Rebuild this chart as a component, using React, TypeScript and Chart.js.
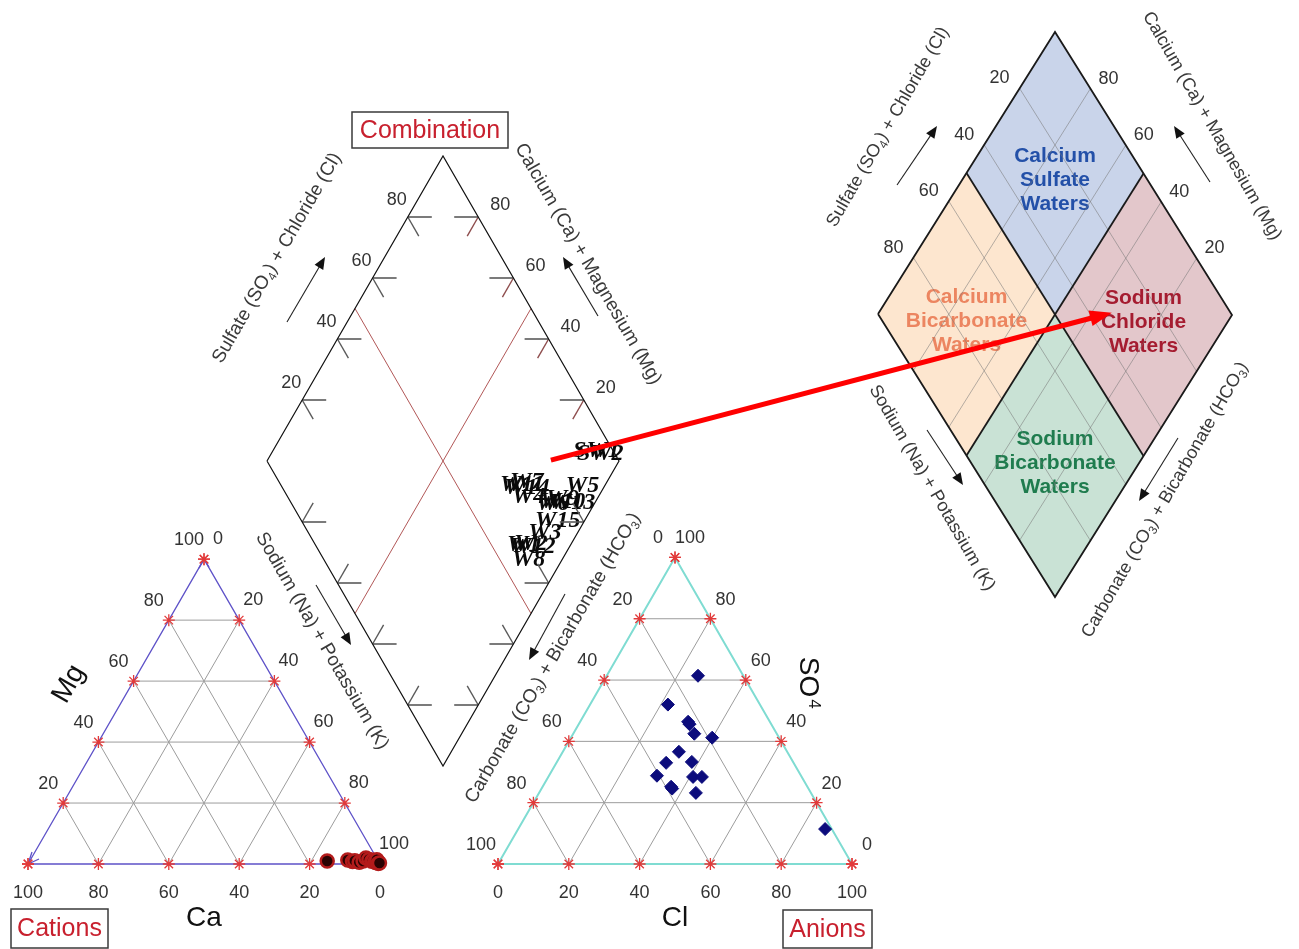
import { useEffect, useRef } from 'react';
import { Chart, registerables } from 'chart.js';

Chart.register(...registerables);

// ================= DATA (percent of meq/L) =================
const gridSteps = [20, 40, 60, 80];
const edgeSteps = [0, 20, 40, 60, 80, 100];

// Cation triangle samples
const cationCa = [14.5, 8.5, 7.4, 6.6, 5.6, 4.3, 3.0, 2.4, 1.9, 1.4, 1.0, 0.8, 0.5, 0.3, 0.2, 0.4, 0.0];
const cationMg = [1.0, 1.3, 0.8, 1.1, 0.6, 1.0, 2.0, 1.5, 0.9, 1.2, 0.5, 1.0, 0.6, 0.4, 1.4, 0.2, 0.3];

// Anion triangle samples
const anionCl = [25.8, 22.0, 30.5, 31.3, 34.2, 39.9, 32.8, 31.0, 38.1, 30.5, 40.9, 43.4, 36.3, 36.9, 44.3, 86.7];
const anionSO4 = [61.4, 52.0, 46.4, 45.6, 42.5, 41.2, 36.6, 33.0, 33.3, 28.8, 28.4, 28.4, 25.2, 24.6, 23.2, 11.4];

// Combination diamond sample labels
const sampleNames = ['SW1', 'SW2', 'W7', 'W11', 'W14', 'W5', 'W4', 'W9', 'W10', 'W6', 'W13', 'W15', 'W3', 'W1', 'W12', 'W2', 'W8'];
const sampleNaK = [86.3, 87.9, 73.5, 71.1, 72.8, 90.0, 76.5, 86.5, 85.3, 84.5, 88.3, 87.0, 87.0, 83.0, 84.1, 84.8, 86.8];
const sampleSO4Cl = [87.6, 88.2, 64.6, 61.3, 61.9, 79.8, 62.7, 72.0, 69.8, 68.4, 72.5, 65.3, 61.4, 53.4, 54.0, 55.6, 52.4];

// Hydrochemical facies (reference diamond)
const faciesLines = [
  ['Calcium', 'Sulfate', 'Waters'],
  ['Calcium', 'Bicarbonate', 'Waters'],
  ['Sodium', 'Chloride', 'Waters'],
  ['Sodium', 'Bicarbonate', 'Waters'],
];
const faciesNaK = [25, 25, 75, 75];
const faciesSO4Cl = [75, 25, 75, 25];
const faciesSteps = [20, 40, 60, 80];

// Arrow from the sample cluster to the Sodium Chloride facies
const pointerFrom = { naK: 80.5, so4Cl: 80.8 };
const pointerTo = { naK: 65.7, so4Cl: 66.4 };

// ================= LAYOUT =================
const W = 1299;
const H = 949;
const S3 = Math.sqrt(3) / 2;
type P = { x: number; y: number };
type D = { L: P; T: P; B: P };
const CAT = { x0: 28, y0: 864, side: 352 };
const AN = { x0: 498, y0: 864, side: 354 };
const MAIN: D = { L: { x: 267, y: 461 }, T: { x: 443, y: 156 }, B: { x: 443, y: 766 } };
const FAC: D = { L: { x: 878, y: 314 }, T: { x: 1055, y: 32 }, B: { x: 1055, y: 597 } };

const SANS = '"Liberation Sans", Arial, sans-serif';
const SERIF = '"Liberation Serif", "Times New Roman", serif';
const COL = {
  grid: '#9c9c9c', catEdge: '#5e52c8', anEdge: '#7fdcd2', star: '#e23a3a',
  catFill: '#2a0202', catRing: '#b31b1b', anFill: '#0c0c7c',
  tick: '#5a5a5a', tickRed: '#8e4d4d', mid: '#a84444', num: '#333333',
  title: '#3a3a3a', boxText: '#c8202e', facGrid: 'rgba(120,120,120,0.55)',
};
const FACIES_FILL = ['#c9d4ea', '#fde6cf', '#e3c7cb', '#c9e2d5'];
const FACIES_TEXT = ['#2350a8', '#ec8560', '#a51c30', '#1f7c4e'];

const AXIS_TITLES = [
  { t: 'Sulfate (SO_4) + Chloride (Cl)', x: 277, y: 258, r: -60, s: 19 },
  { t: 'Calcium (Ca) + Magnesium (Mg)', x: 588, y: 264, r: 60, s: 19 },
  { t: 'Sodium (Na) + Potassium (K)', x: 322, y: 641, r: 60, s: 19 },
  { t: 'Carbonate (CO_3) + Bicarbonate (HCO_3)', x: 553, y: 658, r: -60, s: 19 },
  { t: 'Sulfate (SO_4) + Chloride (Cl)', x: 888, y: 127, r: -60, s: 18 },
  { t: 'Calcium (Ca) + Magnesium (Mg)', x: 1212, y: 126, r: 60, s: 18 },
  { t: 'Sodium (Na) + Potassium (K)', x: 932, y: 488, r: 60, s: 18 },
  { t: 'Carbonate (CO_3) + Bicarbonate (HCO_3)', x: 1165, y: 500, r: -60, s: 18 },
];
const AXIS_ARROWS = [
  [287, 322, 325, 257], [598, 316, 563, 257], [316, 585, 351, 645], [565, 594, 529, 660],
  [897, 185, 937, 126], [1210, 182, 1174, 126], [927, 430, 963, 485], [1178, 438, 1139, 501],
];
const BOXES = [
  { t: 'Combination', x1: 352, y1: 112, x2: 508, y2: 148 },
  { t: 'Cations', x1: 11, y1: 909, x2: 108, y2: 948 },
  { t: 'Anions', x1: 783, y1: 910, x2: 872, y2: 948 },
];

// ================= GEOMETRY =================
const add = (p: P, dx: number, dy: number): P => ({ x: p.x + dx, y: p.y + dy });
function catPt(ca: number, mg: number): P {
  const na = 100 - ca - mg;
  return { x: CAT.x0 + (CAT.side * (na + mg / 2)) / 100, y: CAT.y0 - (CAT.side * S3 * mg) / 100 };
}
function anPt(cl: number, so4: number): P {
  return { x: AN.x0 + (AN.side * (cl + so4 / 2)) / 100, y: AN.y0 - (AN.side * S3 * so4) / 100 };
}
function diaPt(d: D, n: number, a: number): P {
  return {
    x: d.L.x + (a / 100) * (d.T.x - d.L.x) + (n / 100) * (d.B.x - d.L.x),
    y: d.L.y + (a / 100) * (d.T.y - d.L.y) + (n / 100) * (d.B.y - d.L.y),
  };
}
function shorten(a: P, b: P, len: number): P {
  const dx = b.x - a.x, dy = b.y - a.y, l = Math.hypot(dx, dy);
  return { x: b.x - (dx / l) * len, y: b.y - (dy / l) * len };
}

function buildDatasets() {
  const ds: any[] = [];
  const line = (pts: P[], color: string, width: number, order = 5) =>
    ds.push({
      data: pts, showLine: true, borderColor: color, borderWidth: width, pointRadius: 0,
      pointHoverRadius: 0, pointHitRadius: 0, fill: false, tension: 0, order, clip: false,
    });

  // ---- cation triangle ----
  gridSteps.forEach((k) => {
    line([catPt(100 - k, k), catPt(0, k)], COL.grid, 1);
    line([catPt(k, 0), catPt(k, 100 - k)], COL.grid, 1);
    line([catPt(100 - k, 0), catPt(0, 100 - k)], COL.grid, 1);
  });
  line([catPt(100, 0), catPt(0, 100), catPt(0, 0), catPt(100, 0)], COL.catEdge, 1.3, 3);
  const top = catPt(0, 100);
  line([add(top, -5, 9), top, add(top, 5, 8)], COL.catEdge, 1.3, 3);
  const bl = catPt(100, 0);
  line([add(bl, 4, -12), bl, add(bl, 11, -5)], COL.catEdge, 1.3, 3);
  const catStars: P[] = [];
  edgeSteps.forEach((k) => catStars.push(catPt(k, 0), catPt(100 - k, k), catPt(0, k)));
  ds.push({
    data: catStars, showLine: false, pointStyle: 'star', pointRadius: 6, pointBorderColor: COL.star,
    pointBorderWidth: 1.3, pointBackgroundColor: COL.star, order: 2, clip: false,
  });
  ds.push({
    data: cationCa.map((c, i) => catPt(c, cationMg[i])), showLine: false, pointStyle: 'circle',
    pointRadius: 6.5, pointBackgroundColor: COL.catFill, pointBorderColor: COL.catRing,
    pointBorderWidth: 2.5, order: 0, clip: false,
  });

  // ---- anion triangle ----
  gridSteps.forEach((k) => {
    line([anPt(0, k), anPt(100 - k, k)], COL.grid, 1);
    line([anPt(k, 0), anPt(k, 100 - k)], COL.grid, 1);
    line([anPt(100 - k, 0), anPt(0, 100 - k)], COL.grid, 1);
  });
  line([anPt(0, 0), anPt(0, 100), anPt(100, 0), anPt(0, 0)], COL.anEdge, 2, 3);
  const anStars: P[] = [];
  edgeSteps.forEach((k) => anStars.push(anPt(k, 0), anPt(100 - k, k), anPt(0, k)));
  ds.push({
    data: anStars, showLine: false, pointStyle: 'star', pointRadius: 6, pointBorderColor: COL.star,
    pointBorderWidth: 1.3, pointBackgroundColor: COL.star, order: 2, clip: false,
  });
  ds.push({
    data: anionCl.map((c, i) => anPt(c, anionSO4[i])), showLine: false, pointStyle: 'rectRot',
    pointRadius: 6.5, pointBackgroundColor: COL.anFill, pointBorderColor: COL.anFill,
    pointBorderWidth: 1, order: 0, clip: false,
  });

  // ---- combination diamond ----
  const M = MAIN;
  line([diaPt(M, 0, 0), diaPt(M, 0, 100), diaPt(M, 100, 100), diaPt(M, 100, 0), diaPt(M, 0, 0)], '#111', 1.2, 3);
  line([diaPt(M, 0, 50), diaPt(M, 100, 50)], COL.mid, 0.9, 4);
  line([diaPt(M, 50, 0), diaPt(M, 50, 100)], COL.mid, 0.9, 4);
  const TH = 24, TD = 22;
  const edges = [
    { at: (k: number) => diaPt(M, 0, k), h: 1, dx: 0.5, dy: S3, dc: COL.tick },
    { at: (k: number) => diaPt(M, k, 100), h: -1, dx: -0.5, dy: S3, dc: COL.tickRed },
    { at: (k: number) => diaPt(M, k, 0), h: 1, dx: 0.5, dy: -S3, dc: COL.tick },
    { at: (k: number) => diaPt(M, 100, k), h: -1, dx: -0.5, dy: -S3, dc: COL.tick },
  ];
  edges.forEach((e) =>
    gridSteps.forEach((k) => {
      const p = e.at(k);
      line([add(p, e.h * TH, 0), p], COL.tick, 1.6, 4);
      line([p, add(p, e.dx * TD, e.dy * TD)], e.dc, 1.4, 4);
    })
  );

  // ---- facies diamond ----
  faciesSteps.forEach((k) => {
    line([diaPt(FAC, k, 0), diaPt(FAC, k, 100)], COL.facGrid, 1, 6);
    line([diaPt(FAC, 0, k), diaPt(FAC, 100, k)], COL.facGrid, 1, 6);
  });
  line([diaPt(FAC, 0, 0), diaPt(FAC, 0, 100), diaPt(FAC, 100, 100), diaPt(FAC, 100, 0), diaPt(FAC, 0, 0)], '#1a1a1a', 1.8, 3);
  line([diaPt(FAC, 50, 0), diaPt(FAC, 50, 100)], '#1a1a1a', 1.8, 3);
  line([diaPt(FAC, 0, 50), diaPt(FAC, 100, 50)], '#1a1a1a', 1.8, 3);

  // ---- annotation arrows (shafts) ----
  AXIS_ARROWS.forEach(([x1, y1, x2, y2]) => {
    const a = { x: x1, y: y1 }, b = { x: x2, y: y2 };
    line([a, shorten(a, b, 8)], '#222', 1.1, 4);
  });
  const pa = diaPt(MAIN, pointerFrom.naK, pointerFrom.so4Cl);
  const pb = diaPt(FAC, pointerTo.naK, pointerTo.so4Cl);
  line([pa, shorten(pa, pb, 14)], '#ff0000', 5, -1);
  return ds;
}

// ================= DRAW HELPERS =================
function rich(ctx: CanvasRenderingContext2D, text: string, x: number, y: number, rot: number, size: number, color: string, weight = '') {
  const parts: { t: string; sub: boolean }[] = [];
  let buf = '';
  for (let i = 0; i < text.length; i++) {
    if (text[i] === '_') {
      if (buf) parts.push({ t: buf, sub: false });
      buf = '';
      parts.push({ t: text[i + 1], sub: true });
      i++;
    } else buf += text[i];
  }
  if (buf) parts.push({ t: buf, sub: false });
  const main = `${weight} ${size}px ${SANS}`;
  const subF = `${weight} ${Math.round(size * 0.65)}px ${SANS}`;
  let total = 0;
  const widths = parts.map((p) => {
    ctx.font = p.sub ? subF : main;
    const w = ctx.measureText(p.t).width;
    total += w;
    return w;
  });
  ctx.save();
  ctx.translate(x, y);
  ctx.rotate((rot * Math.PI) / 180);
  ctx.fillStyle = color;
  ctx.textBaseline = 'middle';
  ctx.textAlign = 'left';
  let cx = -total / 2;
  parts.forEach((p, i) => {
    ctx.font = p.sub ? subF : main;
    ctx.fillText(p.t, cx, p.sub ? size * 0.3 : 0);
    cx += widths[i];
  });
  ctx.restore();
}

function head(ctx: CanvasRenderingContext2D, a: P, b: P, len: number, half: number, color: string) {
  const dx = b.x - a.x, dy = b.y - a.y, l = Math.hypot(dx, dy);
  const ux = dx / l, uy = dy / l;
  const bx = b.x - ux * len, by = b.y - uy * len;
  ctx.save();
  ctx.fillStyle = color;
  ctx.beginPath();
  ctx.moveTo(b.x, b.y);
  ctx.lineTo(bx - uy * half, by + ux * half);
  ctx.lineTo(bx + uy * half, by - ux * half);
  ctx.closePath();
  ctx.fill();
  ctx.restore();
}

const decorPlugin = {
  id: 'piperDecor',
  beforeDatasetsDraw(chart: any) {
    const ctx: CanvasRenderingContext2D = chart.ctx;
    const sx = chart.scales.x, sy = chart.scales.y;
    const px = (p: P): P => ({ x: sx.getPixelForValue(p.x), y: sy.getPixelForValue(p.y) });

    // facies fills + names
    faciesNaK.forEach((n, i) => {
      const a = faciesSO4Cl[i];
      const n0 = n < 50 ? 0 : 50, a0 = a < 50 ? 0 : 50;
      const pts = [diaPt(FAC, n0, a0), diaPt(FAC, n0, a0 + 50), diaPt(FAC, n0 + 50, a0 + 50), diaPt(FAC, n0 + 50, a0)].map(px);
      ctx.save();
      ctx.fillStyle = FACIES_FILL[i];
      ctx.beginPath();
      pts.forEach((p, j) => (j ? ctx.lineTo(p.x, p.y) : ctx.moveTo(p.x, p.y)));
      ctx.closePath();
      ctx.fill();
      ctx.restore();
    });
    faciesNaK.forEach((n, i) => {
      const c = px(diaPt(FAC, n, faciesSO4Cl[i]));
      faciesLines[i].forEach((t, j) => rich(ctx, t, c.x, c.y + 7 + (j - 1) * 24, 0, 21, FACIES_TEXT[i], 'bold'));
    });

    // sample labels in the combination diamond
    ctx.save();
    ctx.font = `bold italic 24px ${SERIF}`;
    ctx.fillStyle = '#0a0a0a';
    ctx.textAlign = 'left';
    ctx.textBaseline = 'alphabetic';
    sampleNames.forEach((nm, i) => {
      const p = px(diaPt(MAIN, sampleNaK[i], sampleSO4Cl[i]));
      ctx.fillText(nm, p.x, p.y);
    });
    ctx.restore();
  },
  afterDatasetsDraw(chart: any) {
    const ctx: CanvasRenderingContext2D = chart.ctx;
    const sx = chart.scales.x, sy = chart.scales.y;
    const px = (p: P): P => ({ x: sx.getPixelForValue(p.x), y: sy.getPixelForValue(p.y) });
    const num = (v: number, p: P, dx: number, dy: number) => {
      const q = px(add(p, dx, dy));
      rich(ctx, String(v), q.x, q.y, 0, 18, COL.num);
    };

    // cation tick labels
    edgeSteps.forEach((k) => {
      num(k, catPt(k, 0), 0, 29);
      if (k > 0) num(k, catPt(100 - k, k), -15, -19);
      num(k, catPt(0, 100 - k), 14, -20);
    });
    // anion tick labels
    edgeSteps.forEach((k) => {
      num(k, anPt(k, 0), 0, 29);
      num(k, anPt(0, 100 - k), -17, -19);
      num(k, anPt(100 - k, k), 15, -19);
    });
    // combination diamond labels
    gridSteps.forEach((k) => {
      num(k, diaPt(MAIN, 0, k), -11, -17);
      num(100 - k, diaPt(MAIN, k, 100), 22, -12);
      num(k, diaPt(FAC, 0, 100 - k), -20, -10);
      num(100 - k, diaPt(FAC, k, 100), 18, -10);
    });

    // axis names
    rich(ctx, 'Ca', sx.getPixelForValue(CAT.x0 + CAT.side / 2), sy.getPixelForValue(918), 0, 28, '#111');
    rich(ctx, 'Cl', sx.getPixelForValue(AN.x0 + AN.side / 2), sy.getPixelForValue(918), 0, 28, '#111');
    rich(ctx, 'Mg', sx.getPixelForValue(69), sy.getPixelForValue(684), -60, 28, '#111');
    rich(ctx, 'SO', sx.getPixelForValue(808), sy.getPixelForValue(677), 90, 28, '#111');
    rich(ctx, '4', sx.getPixelForValue(814), sy.getPixelForValue(704), 90, 17, '#111');

    AXIS_TITLES.forEach((t) => rich(ctx, t.t, sx.getPixelForValue(t.x), sy.getPixelForValue(t.y), t.r, t.s, COL.title));
    AXIS_ARROWS.forEach(([x1, y1, x2, y2]) =>
      head(ctx, px({ x: x1, y: y1 }), px({ x: x2, y: y2 }), 12, 5, '#111')
    );
    head(ctx, px(diaPt(MAIN, pointerFrom.naK, pointerFrom.so4Cl)), px(diaPt(FAC, pointerTo.naK, pointerTo.so4Cl)), 22, 8, '#ff0000');

    BOXES.forEach((b) => {
      const p1 = px({ x: b.x1, y: b.y1 }), p2 = px({ x: b.x2, y: b.y2 });
      ctx.save();
      ctx.fillStyle = '#ffffff';
      ctx.fillRect(p1.x, p1.y, p2.x - p1.x, p2.y - p1.y);
      ctx.strokeStyle = '#3a3a3a';
      ctx.lineWidth = 1.5;
      ctx.strokeRect(p1.x, p1.y, p2.x - p1.x, p2.y - p1.y);
      ctx.restore();
      rich(ctx, b.t, (p1.x + p2.x) / 2, (p1.y + p2.y) / 2 + 1, 0, 25, COL.boxText);
    });
  },
};

export default function App() {
  const ref = useRef<HTMLCanvasElement | null>(null);
  useEffect(() => {
    document.body.style.margin = '0';
    document.body.style.overflow = 'hidden';
    const canvas = ref.current;
    if (!canvas) return;
    const chart = new Chart(canvas, {
      type: 'scatter',
      data: { datasets: buildDatasets() },
      options: {
        responsive: false,
        maintainAspectRatio: false,
        animation: false,
        devicePixelRatio: 1,
        events: [],
        layout: { padding: 0, autoPadding: false },
        plugins: { legend: { display: false }, tooltip: { enabled: false } },
        scales: {
          x: { type: 'linear', min: 0, max: W, display: false },
          y: { type: 'linear', min: 0, max: H, reverse: true, display: false },
        },
      },
      plugins: [decorPlugin],
    } as any);
    return () => chart.destroy();
  }, []);
  return (
    <div style={{ width: W, height: H, background: '#fff' }}>
      <canvas ref={ref} width={W} height={H} style={{ display: 'block' }} />
    </div>
  );
}
